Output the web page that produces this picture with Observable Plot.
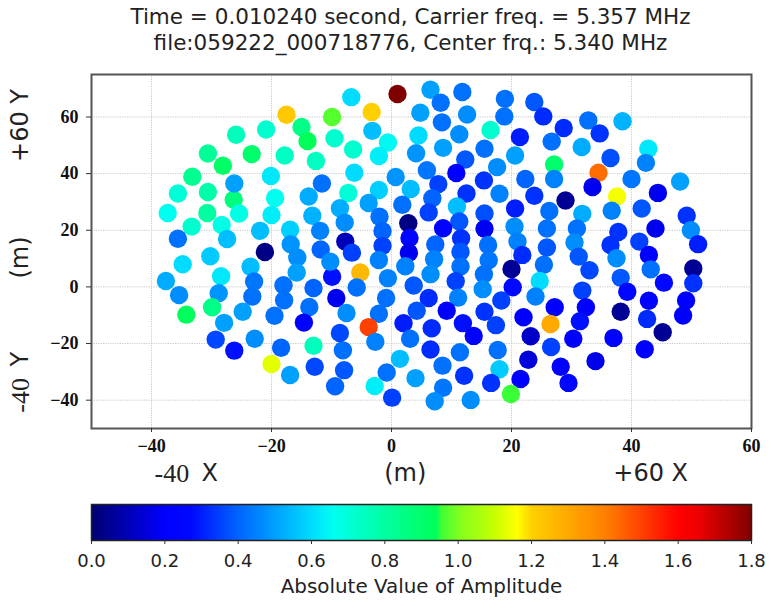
<!DOCTYPE html>
<html>
<head>
<meta charset="utf-8">
<script src="https://cdn.jsdelivr.net/npm/d3@7"></script>
<script src="https://cdn.jsdelivr.net/npm/@observablehq/plot@0.6"></script>
<style>
  html,body{margin:0;padding:0;background:#fff;}
  #title{height:60px;width:771px;box-sizing:border-box;padding-left:50px;text-align:center;font:21.5px/26px "DejaVu Sans",sans-serif;color:#222;padding-top:4px;white-space:nowrap;}
  svg{display:block;}
</style>
</head>
<body>
<div id="title"></div>
<div id="chart"></div>
<div id="bar"></div>
<script>
const titleLines = ["Time = 0.010240 second, Carrier freq. = 5.357 MHz","file:059222_000718776, Center frq.: 5.340 MHz"];
const xTicks = [-40,-20,0,20,40,60];
const yTicks = [-40,-20,0,20,40,60];
const barTicks = [0,0.2,0.4,0.6,0.8,1.0,1.2,1.4,1.6,1.8];
const barLabel = "Absolute Value of Amplitude";

const stationX = [
-17.5,-15,-14,-20.9,-25.9,-9.9,-30.6,-23.3,-17.8,-12.6,
-28.1,-33.2,-20.1,-26.3,-26.2,-35.6,-30.6,-19.4,-11.6,-13.8,
-37.3,-30.7,-25.4,-20,-13.2,-33.3,-28.3,-21.9,-16.9,-11.9,
-35.6,-27.4,-16.8,-11.8,-21.1,-30.2,-15.7,-34.8,-23.5,-15.8,
-28.4,-37.6,-22.9,-18,-28.8,-35.4,-23.2,-13,-9.9,-17.9,
-13.7,-29.9,-24.8,-34.2,-19.5,-27.9,-14.6,-22.8,-29.3,-18.4,
-13,-26.2,-20,-12.8,-16.9,-9.4,-6.7,1,6.5,11.8,
8.2,18.9,23.8,4.8,12.6,-3.3,18.8,25.3,8.4,-3.2,
16.5,11.3,4.5,21.4,28.7,-9.5,-0.6,26.7,-6.4,8.6,
15.5,4.1,-2.1,20.6,12.3,27.1,17.6,-6.2,5.9,10.8,
0.7,15.4,22.3,27.1,7.8,3.2,-2.1,-7.2,12.5,18,
23.8,6.8,29,-3.8,1.8,10.9,-8.6,6.2,20.6,26.3,
15.5,-2,-7.8,11.3,2.8,8.6,15.5,20.5,25.9,-1.5,
3,-7.7,11.6,21,16.1,25.9,-1.5,7.3,2.9,-6.6,
11.5,21.8,-10.2,-2.1,7.1,16.2,11.5,2.3,6.5,25.4,
15.4,-5.2,-0.6,20,24.7,10.7,3.7,-5.8,15.2,20.2,
-9.2,-0.9,6.2,11.1,24,18.3,27.2,9.2,15.5,4.2,
-7.5,-2.1,22,26.5,2,11.9,17.4,6.7,-3.8,-8.6,
13.7,23.2,3.1,-2.7,-8.1,6.5,11.4,17.7,26.6,22.8,
1.4,8.5,28.2,-7.9,18,-0.8,4,12.1,21.5,16.6,
-2.8,8.6,19.9,0.1,13.2,7.2,32.8,38.5,34.7,31.7,
42.8,36.5,42.4,34.5,40,48.1,33.5,44.4,37.6,36.7,
41.7,31.8,49.2,30.9,44,37.8,49.9,30.5,36.5,41.3,
51.1,31.2,37.5,42.9,33,43.2,50.3,50.3,45.4,38.2,
31.8,39.3,42.9,49.1,32.4,38.2,31.4,42.6,48.6,45.2,
30.3,37,42.2,34,29.5];

const stationY = [
60.8,56.5,51.5,55.6,53.7,60,47.1,46.9,46.4,44.5,
42.8,38.9,39.2,30.8,36.5,33,33.5,31.4,36.5,31.9,
26.1,26.1,25.9,25.4,25.1,21.3,21.9,19.8,20.2,19.8,
17,16.9,15.1,13.2,12.3,10.8,10.4,8,7.1,5.1,
3.8,2.1,1.9,0.6,-2.2,-2.9,-3.4,-0.4,3.6,-4.7,
-7.1,-7.2,-8.8,-9.8,-10.2,-12.7,-12.6,-18.3,-18.6,-21.5,
-20.8,-22.5,-27.2,-28.2,-31.1,-35.1,67,68.1,69.6,68.8,
65,66.4,65.3,61.5,60.9,61.8,60.2,60.2,58.1,55.1,
55.4,53.9,53.5,52.9,56.1,52.5,51,51.3,48.5,49.1,
48.8,47.2,46.2,46.4,45,43.2,42.3,40.3,41.2,40.2,
38.8,37.6,38.1,38.1,36.3,34.6,34.2,33.2,33,32.9,
32.2,31.3,30.5,29.6,29,28.4,27.8,26.3,27.7,26.8,
25.9,24.8,22.7,23.1,22.5,20.7,20.5,21.3,20.6,19.7,
17.3,16,17.2,16,14.8,13.9,14.5,15,12.1,12.1,
12.4,11.3,8.9,9.5,9.8,9.4,7.2,7.3,4.5,7.8,
4.5,5.1,3.1,6.3,2.1,2,0.5,-0.2,-0.8,-0.1,
-3.9,-3.9,-3.9,-3.8,-3.4,-4.8,-7.2,-8.4,-8.8,-8.4,
-9.2,-9.5,-10.7,-13.1,-12.8,-12.8,-13.5,-14.6,-14.2,-16.3,
-17.3,-17.4,-18.3,-19.4,-22.4,-22.1,-23.1,-22.3,-21.2,-25.7,
-25.4,-27.8,-28.2,-29.4,-29.1,-30.2,-32.2,-31.4,-32.5,-33.9,
-35,-35.6,-37.8,-39.1,-39.9,-40.4,58.8,58.5,54.2,49.4,
48.8,45.5,43.8,40.3,38.1,37.2,35.3,33.2,31.9,26.9,
27.7,25.8,25.1,20.6,20.6,19.4,20,15.7,14.8,16,
15.1,10.7,10.1,11.3,5.9,6.2,6.5,1.3,1.5,3.2,
-1.3,-1.7,-4.9,-4.8,-7.2,-8.8,-12.1,-11.3,-10.1,-16,
-18.3,-18,-22,-26.2,-33.9];

const stationAmp = [
1.22,.85,.94,.72,.75,.97,.82,.9,.74,.74,
.91,.83,.62,.87,.5,.7,.78,.66,.42,.52,
.66,.8,.68,.63,.53,.72,.68,.55,.58,.45,
.42,.55,.48,.4,.03,.57,.47,.6,.55,.5,
.62,.52,.43,.42,.48,.47,.42,.4,.28,.42,
.42,.85,.5,.93,.42,.5,.2,.47,.36,.4,
.75,.28,1.13,.36,.5,.4,.6,1.8,.5,.42,
.42,.42,.38,.5,.47,1.2,.42,.32,.42,.55,
.72,.47,.6,.3,.32,.72,.65,.42,.72,.5,
.42,.48,.63,.5,.38,.9,.47,.6,.43,.2,
.48,.33,.4,.45,.35,.55,.58,.7,.33,.45,
.33,.4,.05,.5,.42,.55,.52,.35,.3,.42,
.37,.42,.47,.38,.03,.22,.18,.47,.42,.4,
.25,.1,.33,.45,.42,.38,.35,.4,.18,.35,
.38,.32,.47,.45,.45,.43,.42,.45,.47,.42,
.42,1.26,.45,.05,.6,.35,.38,.42,.47,.27,
.18,.42,.32,.45,.45,.35,.2,.2,.33,.38,
.47,.42,.2,1.3,.3,.28,.35,.32,1.5,.36,
.2,.12,.42,.45,.42,.32,.42,.42,.35,.15,
.55,.42,.2,.38,.57,.42,.5,.33,.2,.33,
.63,.43,.95,.35,.47,.47,.42,.53,.33,.52,
.62,.37,.45,1.43,.43,.5,.18,.18,1.15,.45,
.38,.52,.33,.42,.18,.33,.47,.47,.33,.35,
.3,.38,.47,.2,.36,.42,.05,.33,.25,.38,
.35,.25,.22,.2,.2,.05,.28,.32,.2,.05,
.2,.22,.2,.17,.25];

// colour-bar stops: amplitude and colour
const barStops = [0,.2,.27,.4,.5,.6,.66,.8,.94,.95,1,1.1,1.16,1.2,1.4,1.5,1.6,1.65,1.8];
const barColors = ["#000070","#0000ff","#0008ff","#0064ff","#00a0ff","#00dcff","#00fff0","#00ffa0","#00ff58","#38ff38","#80ff20","#c8ff00","#ffff00","#ffd000","#ff8000","#ff4000","#ff0000","#f00000","#800000"];
const amplitudeMax = 1.8;
const colorScale = {type:"linear", domain: barStops, range: barColors, clamp:true};

const stations = stationX.map((x,i) => ({x, y: stationY[i], a: stationAmp[i]}));

document.getElementById("title").innerHTML = titleLines.join("<br>");

const sans = '"DejaVu Sans",sans-serif';
const serif = '"Liberation Serif",serif';
const gridStyle = {stroke:"#c8c8c8", strokeWidth:1, strokeDasharray:"1.2 1.2"};
const labelInk = "#222";

const chart = Plot.plot({
  width: 771, height: 428,
  marginLeft: 91, marginRight: 20, marginTop: 14, marginBottom: 60,
  x: {domain:[-50,60]},
  y: {domain:[-50,75]},
  color: colorScale,
  style: {background:"#fff", overflow:"visible"},
  marks: [
    Plot.ruleX(xTicks, gridStyle),
    Plot.ruleY(yTicks, gridStyle),
    Plot.dot(stations, {x:"x", y:"y", r:9.2, fill:"a", stroke:"none"}),
    Plot.frame({stroke:"#555", strokeWidth:2}),
    Plot.axisX({ticks:xTicks, tickSize:4, tickPadding:7, stroke:"#333", label:null, fontFamily:serif, fontWeight:"bold", fontSize:18, color:"#111"}),
    Plot.axisY({ticks:yTicks, tickSize:5, tickPadding:8, stroke:"#333", label:null, fontFamily:serif, fontWeight:"bold", fontSize:18, color:"#111"}),
    Plot.text(["-40"], {x:-36.6, y:-66, text:d=>d, fontFamily:serif, fontSize:26, fill:labelInk}),
    Plot.text(["X"], {x:-30.3, y:-66, text:d=>d, fontFamily:sans, fontSize:24, fill:labelInk}),
    Plot.text(["(m)"], {x:2.3, y:-66, text:d=>d, fontFamily:sans, fontSize:24, fill:labelInk}),
    Plot.text(["+60 X"], {x:43.2, y:-66, text:d=>d, fontFamily:sans, fontSize:24, fill:labelInk}),
    Plot.text(["+60 Y"], {x:-61.8, y:57, text:d=>d, rotate:-90, fontFamily:sans, fontSize:24, fill:labelInk}),
    Plot.text(["(m)"], {x:-61.8, y:10.4, text:d=>d, rotate:-90, fontFamily:sans, fontSize:24, fill:labelInk}),
    Plot.text(["-40"], {x:-61.8, y:-38.3, text:d=>d, rotate:-90, fontFamily:serif, fontSize:26, fill:labelInk}),
    Plot.text(["Y"], {x:-61.8, y:-25.5, text:d=>d, rotate:-90, fontFamily:sans, fontSize:24, fill:labelInk})
  ]
});
document.getElementById("chart").append(chart);

const barSteps = d3.range(0, amplitudeMax, 0.004);
const bar = Plot.plot({
  width: 771, height: 120,
  marginLeft: 91, marginRight: 20, marginTop: 16, marginBottom: 68,
  x: {domain:[0,amplitudeMax]},
  color: colorScale,
  style: {background:"#fff", overflow:"visible"},
  marks: [
    Plot.rect(barSteps, {x1:d=>d, x2:d=>Math.min(d+0.006,amplitudeMax), fill:d=>d, shapeRendering:"crispEdges"}),
    Plot.frame({stroke:"#222", strokeWidth:1.5}),
    Plot.axisX({ticks:barTicks, tickFormat:".1f", tickSize:4, tickPadding:10, stroke:"#333", label:null, fontFamily:sans, fontSize:18, color:labelInk}),
    Plot.text([barLabel], {x:0.9, dy:52, frameAnchor:"bottom", text:d=>d, fontFamily:sans, fontSize:19.9, fill:labelInk})
  ]
});
document.getElementById("bar").append(bar);
</script>
</body>
</html>
